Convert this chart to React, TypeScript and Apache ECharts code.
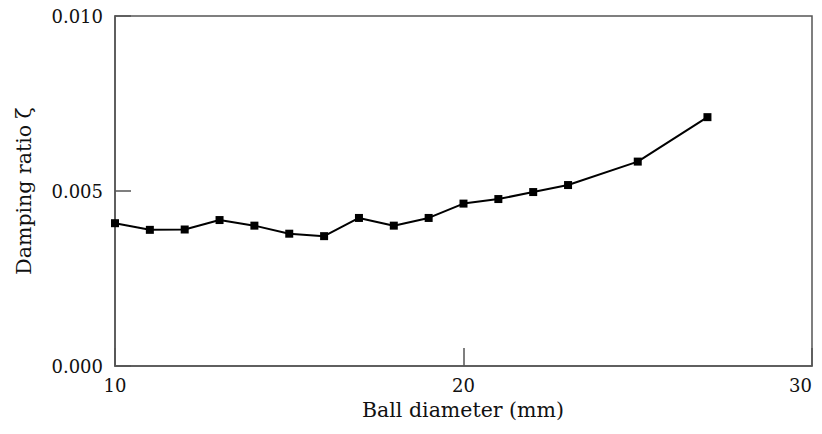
import React, { useEffect, useRef } from "react";
import * as echarts from "echarts";

const ballDiameter = [10, 11, 12, 13, 14, 15, 16, 17, 18, 19, 20, 21, 22, 23, 25, 27];
const dampingRatio = [
  0.00408, 0.00389, 0.0039, 0.00417, 0.00401, 0.00378, 0.00371, 0.00423,
  0.00401, 0.00423, 0.00464, 0.00477, 0.00497, 0.00517, 0.00584, 0.00711,
];
const xTicks = [10, 20, 30];
const yTicks = [0, 0.005, 0.01];
const xName = "Ball diameter (mm)";
const yName = "Damping ratio ζ";

const FONT = "DejaVu Serif";

export default function App() {
  const ref = useRef<HTMLDivElement>(null);
  useEffect(() => {
    if (!ref.current) return;
    document.body.style.margin = "0";
    document.body.style.overflow = "hidden";
    const chart = echarts.init(ref.current, undefined, { renderer: "svg" });
    chart.setOption({
      animation: false,
      backgroundColor: "#ffffff",
      grid: {
        left: 115,
        top: 16,
        right: 10,
        bottom: 68,
        show: true,
        borderColor: "#555",
        borderWidth: 1.5,
      },
      graphic: [
        {
          type: "text",
          x: 463,
          y: 410,
          style: {
            text: xName,
            fontFamily: FONT,
            fontSize: 20.5,
            fill: "#111",
            textAlign: "center",
            textVerticalAlign: "middle",
          },
        },
        {
          type: "text",
          x: 24,
          y: 191,
          rotation: Math.PI / 2,
          style: {
            text: yName,
            fontFamily: FONT,
            fontSize: 20.5,
            fill: "#111",
            textAlign: "center",
            textVerticalAlign: "middle",
          },
        },
      ],
      xAxis: {
        type: "value",
        min: xTicks[0],
        max: xTicks[xTicks.length - 1],
        interval: xTicks[1] - xTicks[0],
        axisLine: { lineStyle: { color: "#555", width: 1.5 } },
        axisTick: { inside: true, length: 18, lineStyle: { color: "#555", width: 1.5 } },
        axisLabel: {
          fontFamily: FONT,
          fontSize: 18,
          color: "#111",
          margin: 10,
          alignMaxLabel: "right",
        },
        splitLine: { show: false },
      },
      yAxis: {
        type: "value",
        min: yTicks[0],
        max: yTicks[yTicks.length - 1],
        interval: yTicks[1] - yTicks[0],
        axisLine: { lineStyle: { color: "#555", width: 1.5 } },
        axisTick: { inside: true, length: 16, lineStyle: { color: "#555", width: 1.5 } },
        axisLabel: {
          fontFamily: FONT,
          fontSize: 18,
          color: "#111",
          margin: 12,
          formatter: (v: number) => v.toFixed(3),
        },
        splitLine: { show: false },
      },
      series: [
        {
          type: "line",
          data: ballDiameter.map((x, i) => [x, dampingRatio[i]]),
          symbol: "rect",
          symbolSize: 8,
          itemStyle: { color: "#000" },
          lineStyle: { color: "#000", width: 2 },
        },
      ],
    });
    return () => chart.dispose();
  }, []);
  return <div ref={ref} style={{ width: 822, height: 434 }} />;
}
